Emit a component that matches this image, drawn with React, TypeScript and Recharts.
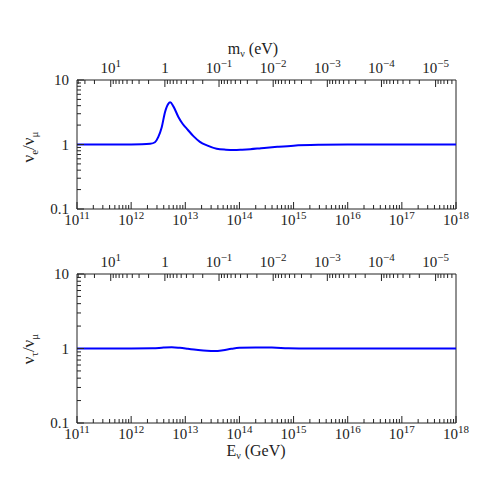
import { useState } from "react";
import { createPortal } from "react-dom";
import { LineChart, Line, XAxis, YAxis, ReferenceLine } from "recharts";

// top panel: nu_e / nu_mu vs log10(E/GeV)
const logE_e = [11, 11.5, 12, 12.2, 12.35, 12.44, 12.5, 12.565, 12.625, 12.686, 12.72, 12.78, 12.87, 12.95, 13.03, 13.15, 13.27, 13.4, 13.58, 13.75, 13.9, 14.05, 14.2, 14.4, 14.7, 15, 15.5, 16, 17, 18];
const nueRatio = [1.0, 1.0, 1.0, 1.005, 1.025, 1.085, 1.3, 1.85, 3.17, 4.27, 4.5, 3.9, 2.7, 2.1, 1.75, 1.35, 1.1, 0.97, 0.86, 0.83, 0.82, 0.83, 0.845, 0.875, 0.92, 0.96, 0.99, 1.0, 1.0, 1.0];

// bottom panel: nu_tau / nu_mu
const logE_t = [11, 12, 12.4, 12.6, 12.75, 12.9, 13.05, 13.2, 13.4, 13.55, 13.7, 13.85, 14, 14.3, 14.6, 14.9, 15.3, 16, 17, 18];
const nutauRatio = [1.0, 1.0, 1.005, 1.03, 1.04, 1.02, 0.99, 0.96, 0.93, 0.925, 0.95, 0.99, 1.02, 1.035, 1.03, 1.01, 1.0, 1.0, 1.0, 1.0];

// E (GeV) decades on the bottom axis
const eDecades = [11, 12, 13, 14, 15, 16, 17, 18];
// m_nu (eV) decades on the top axis, E_res = 4.2e12 GeV / m
const mDecades = [1, 0, -1, -2, -3, -4, -5];
const E_RES = 4.2e12;
// y decades
const yDecades = [-1, 0, 1];
const yLabels = ["0.1", "1", "10"];

const FONT = "'Liberation Serif', 'DejaVu Serif', serif";
const INK = "#222";

type TickInfo = { major: boolean; base: string; exp?: string };

const eTicks: number[] = [];
const eInfo = new Map<number, TickInfo>();
eDecades.forEach((n) => {
  const kmax = n === 18 ? 1 : 9;
  for (let k = 1; k <= kmax; k++) {
    const v = k * 10 ** n;
    eTicks.push(v);
    eInfo.set(v, k === 1 ? { major: true, base: "10", exp: String(n) } : { major: false, base: "" });
  }
});

const mTicks: number[] = [];
const mInfo = new Map<number, TickInfo>();
for (let n = -6; n <= 1; n++) {
  for (let k = 1; k <= 9; k++) {
    const m = k * 10 ** n;
    const e = E_RES / m;
    if (e < 1e11 || e > 1e18) continue;
    mTicks.push(e);
    if (k === 1 && mDecades.includes(n)) {
      const lab: TickInfo = n === 0 ? { major: true, base: "1" } : { major: true, base: "10", exp: n < 0 ? "\u2212" + -n : String(n) };
      mInfo.set(e, lab);
    } else {
      mInfo.set(e, { major: false, base: "" });
    }
  }
}
mTicks.sort((a, b) => a - b);

const yTicks: number[] = [];
const yInfo = new Map<number, TickInfo>();
yDecades.forEach((n, i) => {
  const kmax = n === 1 ? 1 : 9;
  for (let k = 1; k <= kmax; k++) {
    const v = k * 10 ** n;
    yTicks.push(v);
    yInfo.set(v, k === 1 ? { major: true, base: yLabels[i] } : { major: false, base: "" });
  }
});

function Label10({ x, y, t, anchor = "middle" }: { x: number; y: number; t: TickInfo; anchor?: string }) {
  return (
    <text x={x} y={y} textAnchor={anchor} fontFamily={FONT} fontSize={15} fill={INK}>
      {t.base}
      {t.exp && (
        <tspan dy={-6} fontSize={11}>
          {t.exp}
        </tspan>
      )}
    </text>
  );
}

// label stays in the axis; the inward tick mark goes to the overlay layer (page coords)
function AxisTick(props: any) {
  const { info, side, layer, oy } = props;
  const x = Number(props.x);
  const y = Number(props.y);
  const t: TickInfo | undefined = info.get(props.payload.value);
  if (!t) return <g />;
  const len = t.major ? 7 : 4;
  let x2 = x;
  let y2 = y;
  let label = null;
  if (side === "bottom") {
    y2 = y - len;
    if (t.major) label = <Label10 x={x} y={y + 16} t={t} />;
  } else if (side === "top") {
    y2 = y + len;
    if (t.major) label = <Label10 x={x} y={y - 7} t={t} />;
  } else {
    x2 = x + len;
    if (t.major) label = <Label10 x={x - 8} y={y + 5} t={t} anchor="end" />;
  }
  const mark = <line x1={x} y1={y + oy} x2={x2} y2={y2 + oy} stroke={INK} strokeWidth={1} />;
  return (
    <g>
      {layer ? createPortal(mark, layer) : null}
      {label}
    </g>
  );
}

function Panel({ data, height, topH, bottomH, top, layer }: any) {
  return (
    <div style={{ position: "absolute", left: 0, top }}>
      <LineChart width={497} height={height} data={data} margin={{ top: 0, right: 41, bottom: 0, left: 0 }}>
        <XAxis
          dataKey="E"
          type="number"
          scale="log"
          domain={[1e11, 1e18]}
          allowDataOverflow
          ticks={eTicks}
          interval={0}
          height={bottomH}
          tickSize={0}
          tickMargin={0}
          tickLine={false}
          axisLine={{ stroke: INK }}
          tick={(p: any) => <AxisTick {...p} info={eInfo} side="bottom" layer={layer} oy={top} />}
        />
        <XAxis
          xAxisId="top"
          dataKey="E"
          orientation="top"
          type="number"
          scale="log"
          domain={[1e11, 1e18]}
          allowDataOverflow
          ticks={mTicks}
          interval={0}
          height={topH}
          tickSize={0}
          tickMargin={0}
          tickLine={false}
          axisLine={{ stroke: INK }}
          tick={(p: any) => <AxisTick {...p} info={mInfo} side="top" layer={layer} oy={top} />}
        />
        <YAxis
          type="number"
          scale="log"
          domain={[0.1, 10]}
          allowDataOverflow
          ticks={yTicks}
          interval={0}
          width={77}
          tickSize={0}
          tickMargin={0}
          tickLine={false}
          axisLine={{ stroke: INK }}
          tick={(p: any) => <AxisTick {...p} info={yInfo} side="left" layer={layer} oy={top} />}
        />
        <ReferenceLine x={1e18} stroke={INK} strokeWidth={1} />
        <Line xAxisId="top" dataKey="r" stroke="none" dot={false} activeDot={false} isAnimationActive={false} />
        <Line dataKey="r" type="monotone" stroke="#0000ff" strokeWidth={2} dot={false} isAnimationActive={false} />
      </LineChart>
    </div>
  );
}

function YTitle({ cy, sub }: { cy: number; sub: string }) {
  return (
    <text transform={`translate(34,${cy}) rotate(-90)`} textAnchor="middle" fontFamily={FONT} fontSize={17} fill={INK}>
      ν
      <tspan dy={4} fontSize={11}>
        {sub}
      </tspan>
      <tspan dy={-4}>/ν</tspan>
      <tspan dy={4} fontSize={11}>
        μ
      </tspan>
    </text>
  );
}

export default function App() {
  const [layer, setLayer] = useState<SVGGElement | null>(null);
  const dataE = logE_e.map((l, i) => ({ E: 10 ** l, r: nueRatio[i] }));
  const dataT = logE_t.map((l, i) => ({ E: 10 ** l, r: nutauRatio[i] }));
  return (
    <div style={{ position: "absolute", left: 0, top: 0, width: 497, height: 497, background: "#fff" }}>
      <Panel data={dataE} height={245} topH={80} bottomH={36} top={0} layer={layer} />
      <Panel data={dataT} height={252} topH={29} bottomH={74} top={245} layer={layer} />
      <svg width={497} height={497} style={{ position: "absolute", left: 0, top: 0, pointerEvents: "none" }}>
        <g ref={setLayer} />
        <text x={253} y={54} textAnchor="middle" fontFamily={FONT} fontSize={16} fill={INK}>
          m<tspan dy={3} fontSize={10}>ν</tspan><tspan dy={-3}> (eV)</tspan>
        </text>
        <text x={256} y={456} textAnchor="middle" fontFamily={FONT} fontSize={16} fill={INK}>
          E<tspan dy={3} fontSize={10}>ν</tspan><tspan dy={-3}> (GeV)</tspan>
        </text>
        <YTitle cy={147} sub="e" />
        <YTitle cy={349} sub="τ" />
      </svg>
    </div>
  );
}
